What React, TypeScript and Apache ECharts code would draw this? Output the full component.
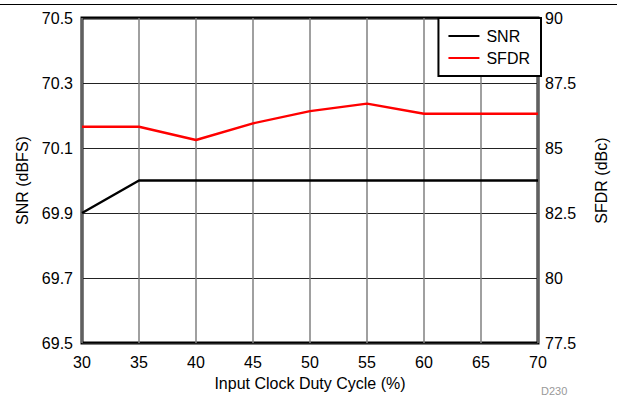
import React, { useEffect, useRef } from "react";
import * as echarts from "echarts";

const dutyCycle = [30, 35, 40, 45, 50, 55, 60, 65, 70];
const snr = [69.9, 70.0, 70.0, 70.0, 70.0, 70.0, 70.0, 70.0, 70.0];
const sfdr = [85.82, 85.82, 85.31, 85.95, 86.42, 86.71, 86.32, 86.32, 86.32];
const snrTicks = [69.5, 69.7, 69.9, 70.1, 70.3, 70.5];
const sfdrTicks = [77.5, 80, 82.5, 85, 87.5, 90];

const FONT = "'Liberation Sans', Arial, sans-serif";

export default function App() {
  const ref = useRef<HTMLDivElement>(null);
  useEffect(() => {
    document.body.style.margin = "0";
    const chart = echarts.init(ref.current!, null, { renderer: "svg" });
    const snrMin = snrTicks[0];
    const snrStep = snrTicks[1] - snrTicks[0];
    const toIdx = (v: number) => (v - snrMin) / snrStep;
    const labelStyle = { color: "#000", fontSize: 16, fontFamily: FONT };
    chart.setOption({
      animation: false,
      textStyle: { fontFamily: FONT },
      grid: {
        left: 82,
        right: 76,
        top: 18,
        bottom: 52,
        show: true,
        borderColor: "#000",
        borderWidth: 3,
        backgroundColor: "transparent",
      },
      legend: {
        right: 76,
        top: 18,
        orient: "vertical",
        backgroundColor: "#fff",
        borderColor: "#000",
        borderWidth: 2,
        borderRadius: 0,
        padding: [10, 11, 10, 10],
        itemGap: 6,
        itemWidth: 31,
        itemHeight: 2,
        icon: "rect",
        textStyle: { color: "#000", fontSize: 16, fontFamily: FONT, padding: [0, 0, 0, 2] },
        data: ["SNR", "SFDR"],
      },
      xAxis: {
        type: "value",
        min: 30,
        max: 70,
        interval: 5,
        name: "Input Clock Duty Cycle (%)",
        nameLocation: "middle",
        nameGap: 31,
        nameTextStyle: { color: "#000", fontSize: 16, fontFamily: FONT },
        axisLine: { show: false },
        axisTick: { show: false },
        axisLabel: { ...labelStyle, margin: 11 },
        splitLine: { show: true, lineStyle: { color: "#808080", width: 1.5 } },
      },
      yAxis: [
        {
          type: "value",
          min: 0,
          max: snrTicks.length - 1,
          interval: 1,
          name: "SNR (dBFS)",
          nameLocation: "middle",
          nameRotate: 90,
          nameGap: 52,
          nameTextStyle: { color: "#000", fontSize: 16, fontFamily: FONT },
          axisLine: { show: false },
          axisTick: { show: false },
          axisLabel: {
            ...labelStyle,
            margin: 9,
            formatter: (v: number) => snrTicks[Math.round(v)]?.toFixed(1) ?? "",
          },
          splitLine: { show: true, lineStyle: { color: "#222", width: 1 } },
        },
        {
          type: "value",
          min: sfdrTicks[0],
          max: sfdrTicks[sfdrTicks.length - 1],
          interval: 2.5,
          name: "SFDR (dBc)",
          nameLocation: "middle",
          nameRotate: 90,
          nameGap: 55,
          nameTextStyle: { color: "#000", fontSize: 16, fontFamily: FONT },
          axisLine: { show: false },
          axisTick: { show: false },
          axisLabel: {
            ...labelStyle,
            margin: 7,
            formatter: (v: number) => String(v),
          },
          splitLine: { show: false },
        },
      ],
      series: [
        {
          name: "SNR",
          type: "line",
          yAxisIndex: 0,
          data: dutyCycle.map((x, i) => [x, toIdx(snr[i])]),
          showSymbol: false,
          symbol: "none",
          lineStyle: { color: "#000", width: 2.4 },
          itemStyle: { color: "#000" },
        },
        {
          name: "SFDR",
          type: "line",
          yAxisIndex: 1,
          data: dutyCycle.map((x, i) => [x, sfdr[i]]),
          showSymbol: false,
          symbol: "none",
          lineStyle: { color: "#ff0000", width: 2.4 },
          itemStyle: { color: "#ff0000" },
        },
      ],
      graphic: [
        {
          type: "line",
          shape: { x1: 0, y1: 4.5, x2: 617, y2: 4.5 },
          style: { stroke: "#000", lineWidth: 1 },
        },
        {
          type: "text",
          left: 541,
          top: 385,
          style: { text: "D230", fill: "#999", fontSize: 11, fontFamily: FONT },
        },
      ],
    });
    return () => chart.dispose();
  }, []);
  return <div ref={ref} style={{ width: 617, height: 396 }} />;
}
